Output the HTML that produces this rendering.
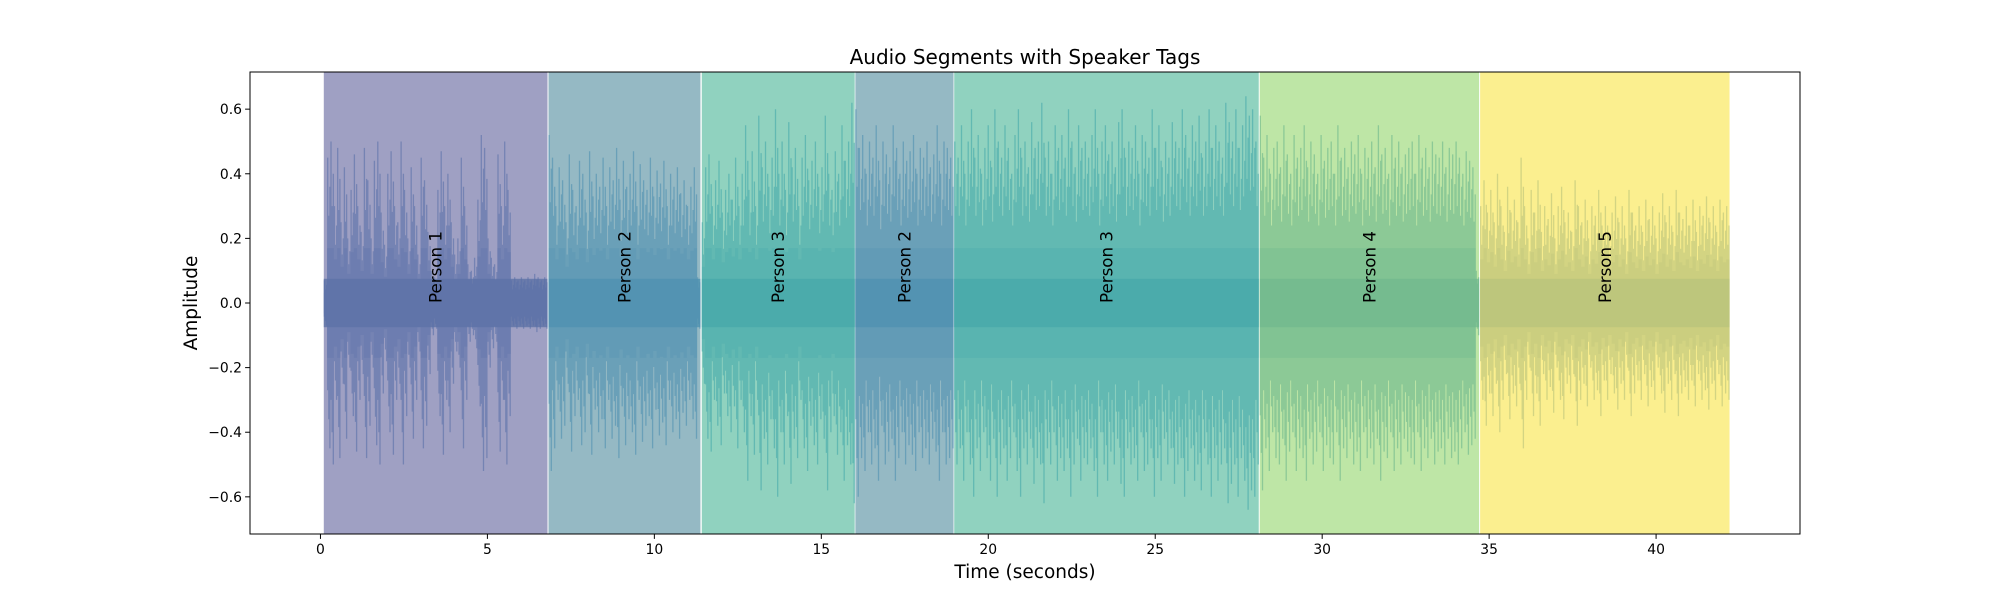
<!DOCTYPE html>
<html><head><meta charset="utf-8"><style>
body{margin:0;background:#fff;font-family:"Liberation Sans","DejaVu Sans",sans-serif;}
svg text{font-family:"DejaVu Sans","Liberation Sans",sans-serif;}
</style></head><body>
<svg id="chart" width="2000" height="600" xmlns="http://www.w3.org/2000/svg"></svg>
<script>
const segStarts=[0.1,6.83,11.42,16.02,18.98,28.13,34.73];
const segEnds=[6.8,11.38,16.0,18.96,28.1,34.7,42.2];
const segLabels=["Person 1","Person 2","Person 3","Person 2","Person 3","Person 4","Person 5"];
const xTicks=[0,5,10,15,20,25,30,35,40];
const yTicks=[-0.6,-0.4,-0.2,0.0,0.2,0.4,0.6];
const amp1=[0.07,0.45,0.5,0.3,0.48,0.25,0.42,0.2,0.35,0.46,0.3,0.22,0.48,0.38,0.2,0.44,0.5,0.28,0.18,0.4,0.47,0.3,0.25,0.5,0.35,0.2,0.42,0.3,0.15,0.45,0.38,0.22,0.1,0.08,0.35,0.47,0.3,0.4,0.25,0.15,0.2,0.45,0.3,0.12,0.1,0.14,0.32,0.52,0.48,0.2,0.14,0.12,0.46,0.3,0.5,0.35,0.07,0.08,0.07,0.08,0.07,0.08,0.07,0.09,0.08,0.07,0.08];
const amp2=[0.52,0.45,0.3,0.42,0.38,0.25,0.46,0.35,0.3,0.44,0.4,0.28,0.47,0.33,0.4,0.36,0.45,0.3,0.42,0.38,0.48,0.32,0.44,0.36,0.4,0.47,0.3,0.43,0.38,0.35,0.45,0.33,0.41,0.37,0.44,0.3,0.4,0.36,0.42,0.34,0.38,0.3,0.36,0.42,0.08];
const amp3=[0.25,0.42,0.46,0.3,0.38,0.44,0.28,0.35,0.4,0.32,0.45,0.3,0.4,0.55,0.35,0.47,0.3,0.58,0.42,0.5,0.36,0.45,0.6,0.4,0.5,0.35,0.56,0.42,0.48,0.3,0.45,0.52,0.38,0.44,0.5,0.36,0.42,0.58,0.4,0.35,0.47,0.4,0.55,0.44,0.5,0.62];
const amp4=[0.6,0.48,0.52,0.4,0.5,0.45,0.55,0.38,0.5,0.46,0.42,0.55,0.48,0.4,0.5,0.44,0.47,0.52,0.4,0.48,0.45,0.5,0.42,0.46,0.55,0.4,0.5,0.48,0.45];
const amp5=[0.5,0.45,0.55,0.4,0.5,0.6,0.45,0.52,0.4,0.48,0.55,0.42,0.6,0.5,0.45,0.55,0.48,0.4,0.52,0.6,0.45,0.5,0.42,0.56,0.48,0.5,0.62,0.45,0.5,0.4,0.55,0.48,0.52,0.45,0.6,0.5,0.42,0.55,0.48,0.5,0.45,0.52,0.6,0.4,0.5,0.55,0.46,0.5,0.42,0.56,0.6,0.45,0.5,0.48,0.55,0.4,0.52,0.5,0.45,0.6,0.48,0.55,0.42,0.5,0.45,0.56,0.5,0.48,0.6,0.52,0.45,0.55,0.5,0.58,0.45,0.5,0.6,0.48,0.55,0.5,0.45,0.62,0.56,0.5,0.6,0.48,0.55,0.64,0.58,0.6,0.5];
const amp6=[0.58,0.45,0.52,0.4,0.48,0.5,0.42,0.55,0.46,0.4,0.52,0.45,0.48,0.55,0.42,0.5,0.46,0.4,0.52,0.44,0.48,0.5,0.4,0.55,0.45,0.48,0.42,0.5,0.46,0.52,0.4,0.48,0.45,0.5,0.42,0.55,0.46,0.48,0.4,0.52,0.45,0.5,0.42,0.46,0.48,0.5,0.4,0.52,0.45,0.48,0.42,0.5,0.46,0.45,0.5,0.42,0.48,0.46,0.5,0.45,0.4,0.47,0.44,0.42,0.1];
const amp7=[0.3,0.38,0.28,0.35,0.25,0.4,0.3,0.22,0.36,0.28,0.32,0.25,0.45,0.3,0.2,0.35,0.28,0.38,0.22,0.3,0.26,0.34,0.2,0.3,0.36,0.25,0.28,0.22,0.38,0.3,0.25,0.32,0.2,0.3,0.27,0.35,0.24,0.3,0.22,0.28,0.33,0.25,0.3,0.2,0.35,0.28,0.24,0.3,0.22,0.32,0.26,0.3,0.2,0.28,0.34,0.25,0.3,0.22,0.35,0.28,0.26,0.3,0.24,0.32,0.22,0.3,0.27,0.33,0.25,0.3,0.22,0.32,0.28,0.3];
const amps=[amp1,amp2,amp3,amp4,amp5,amp6,amp7];
const spanColors=["#9fa0c3","#95b9c4","#90d2bf","#95b9c4","#90d2bf","#bee6a6","#fbef8f"];
const waveColors=["#5a6fa8","#4f8fb0","#45a8aa","#4f8fb0","#45a8aa","#6ab58c","#b9c27a"];
const coreColors=["#6a7bab","#5b99b4","#56b0ad","#5b99b4","#56b0ad","#84c494","#c4ce7f"];

const NS="http://www.w3.org/2000/svg";
const svg=document.getElementById('chart');
const L=250,R=1800,T=72,B=534;
const xMin=-2.11,xMax=44.31,yMin=-0.715,yMax=0.715;
const xs=v=>L+(v-xMin)/(xMax-xMin)*(R-L);
const ys=v=>B-(v-yMin)/(yMax-yMin)*(B-T);
function mk(tag,attrs,parent){const e=document.createElementNS(NS,tag);for(const k in attrs)e.setAttribute(k,attrs[k]);(parent||svg).appendChild(e);return e;}

const clip=mk('clipPath',{id:'pc'});mk('rect',{x:L,y:T,width:R-L,height:B-T},clip);
const plot=mk('g',{'clip-path':'url(#pc)'});



segStarts.forEach((s,i)=>{
  const r=mk('rect',{x:xs(s),y:T,width:xs(segEnds[i])-xs(s),height:B-T,fill:spanColors[i]},plot);
  
  
});
const sub=[1,0.6,0.8];
amps.forEach((a,i)=>{
  const s=segStarts[i],e=segEnds[i],n=a.length;
  let bd='';
  a.forEach((v,j)=>{
    const x0=xs(s+(e-s)*j/n),x1=xs(s+(e-s)*(j+1)/n),h=Math.min(v*0.45,0.17);
    bd+='M'+x0.toFixed(1)+' '+ys(h).toFixed(1)+'H'+x1.toFixed(1)+'V'+ys(-h).toFixed(1)+'H'+x0.toFixed(1)+'Z';
  });
  const band=mk('path',{d:bd,fill:waveColors[i],'fill-opacity':0.3},plot);
  
  
  const core=mk('rect',{x:xs(s),y:ys(0.075),width:xs(e)-xs(s),height:ys(-0.075)-ys(0.075),fill:coreColors[i]},plot);
  
  
  let d='';
  a.forEach((v,j)=>{
    for(let k=0;k<3;k++){
      const t=s+(e-s)*(j+(k+0.5)/3)/n;
      const x=xs(t).toFixed(1);
      d+='M'+x+' '+ys(v*sub[k]).toFixed(1)+'L'+x+' '+ys(-v*sub[(k+1)%3]).toFixed(1);
    }
  });
  const p=mk('path',{d:d,fill:'none',stroke:waveColors[i],'stroke-width':1.3,'stroke-opacity':0.6},plot);
  
  
});
segStarts.forEach((s,i)=>{
  const cx=xs((s+segEnds[i])/2),cy=ys(0);
  const t=mk('text',{x:cx,y:cy,transform:`rotate(-90 ${cx} ${cy})`,'font-size':16.7,fill:'#000'},plot);
  t.setAttribute('dy','6');
  t.textContent=segLabels[i];
  
  
});
const fr=mk('rect',{x:L,y:T,width:R-L,height:B-T,fill:'none',stroke:'#000','stroke-width':1});


xTicks.forEach(v=>{
  const x=xs(v);
  mk('line',{x1:x,x2:x,y1:B,y2:B+4.9,stroke:'#000'});
  const t=mk('text',{x:x,y:B+20,'font-size':13.9,'text-anchor':'middle'});
  t.textContent=String(v);
  
  
});
yTicks.forEach(v=>{
  const y=ys(v);
  mk('line',{x1:L-4.9,x2:L,y1:y,y2:y,stroke:'#000'});
  const t=mk('text',{x:L-8,y:y+5,'font-size':13.9,'text-anchor':'end'});
  t.textContent=(v<0?'\u2212':'')+Math.abs(v).toFixed(1);
  
  
});
const title=mk('text',{x:(L+R)/2,y:64,'font-size':20,'text-anchor':'middle'});
title.textContent='Audio Segments with Speaker Tags';


const xl=mk('text',{x:(L+R)/2,y:578,'font-size':18.5,'text-anchor':'middle'});
xl.textContent='Time (seconds)';


const yl=mk('text',{x:197,y:(T+B)/2,'font-size':18.5,'text-anchor':'middle',transform:`rotate(-90 197 ${(T+B)/2})`});
yl.textContent='Amplitude';


</script>
</body></html>
